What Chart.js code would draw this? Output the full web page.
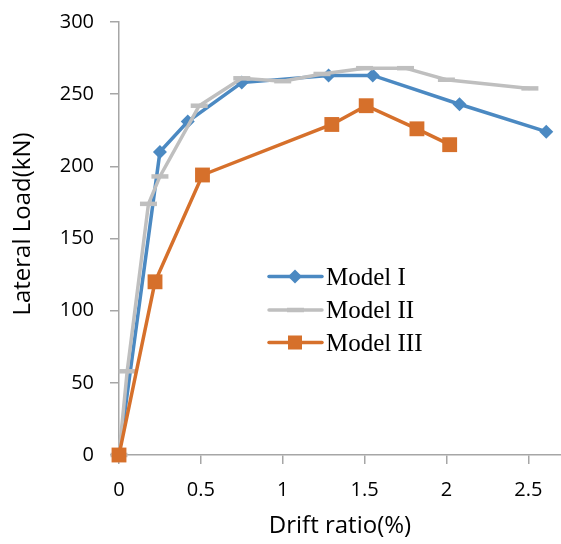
<!DOCTYPE html>
<html lang="en">
<head>
    <meta charset="UTF-8">
    <title>Lateral Load vs Drift Ratio</title>
    <script src="https://cdn.jsdelivr.net/npm/chart.js"></script>
    <style>
        html, body { margin: 0; padding: 0; background: #fff; }
        #wrap { width: 561px; height: 544px; }
    </style>
</head>
<body>
    <div id="wrap"><canvas id="driftChart" width="561" height="544"></canvas></div>

    <script>
        // data
        const seriesNames = ["Model I", "Model II", "Model III"];
        const modelIDrift = [0, 0.25, 0.42, 0.75, 1.28, 1.55, 2.08, 2.61];
        const modelILoad = [0, 210, 231, 258, 263, 263, 243, 224];
        const modelIIDrift = [0, 0.05, 0.18, 0.25, 0.49, 0.75, 1.0, 1.24, 1.5, 1.75, 2.0, 2.51];
        const modelIILoad = [0, 58, 174, 193, 242, 261, 259, 264, 268, 268, 260, 254];
        const modelIIIDrift = [0, 0.22, 0.51, 1.3, 1.51, 1.82, 2.02];
        const modelIIILoad = [0, 120, 194, 229, 242, 226, 215];
        const xTicks = [0, 0.5, 1, 1.5, 2, 2.5];
        const yTicks = [0, 50, 100, 150, 200, 250, 300];

        const BLUE = "#4b89c2";
        const GRAY = "#bfbfbf";
        const ORANGE = "#d6702b";

        function pts(xs, ys) {
            return xs.map((x, i) => ({ x: x, y: ys[i] }));
        }

        // legend drawn inside the plot, like the Excel one
        const insideLegend = {
            id: "insideLegend",
            afterDatasetsDraw(chart) {
                const ctx = chart.ctx;
                const rows = [276.5, 310, 342.5];
                ctx.save();
                chart.data.datasets.forEach((ds, i) => {
                    const y = rows[i];
                    ctx.strokeStyle = ds.borderColor;
                    ctx.lineWidth = 3.5;
                    ctx.lineCap = "round";
                    ctx.beginPath();
                    ctx.moveTo(269, y);
                    ctx.lineTo(322, y);
                    ctx.stroke();
                    ctx.fillStyle = ds.pointBackgroundColor;
                    if (ds.pointStyle === "rectRot") {
                        ctx.beginPath();
                        ctx.moveTo(295, y - 7);
                        ctx.lineTo(302, y);
                        ctx.lineTo(295, y + 7);
                        ctx.lineTo(288, y);
                        ctx.closePath();
                        ctx.fill();
                    } else if (ds.pointStyle === "rect") {
                        ctx.fillRect(288, y - 7, 14, 14);
                    } else {
                        ctx.lineCap = "butt";
                        ctx.lineWidth = 4.5;
                        ctx.beginPath();
                        ctx.moveTo(287, y);
                        ctx.lineTo(304, y);
                        ctx.stroke();
                    }
                    ctx.fillStyle = "#000";
                    ctx.font = "25px 'Liberation Serif', serif";
                    ctx.textBaseline = "alphabetic";
                    ctx.fillText(ds.label, 326, y + 8);
                });
                ctx.restore();
            }
        };

        const ctx = document.getElementById("driftChart").getContext("2d");
        new Chart(ctx, {
            type: "scatter",
            data: {
                datasets: [
                    {
                        label: seriesNames[0],
                        data: pts(modelIDrift, modelILoad),
                        showLine: true,
                        borderColor: BLUE,
                        backgroundColor: BLUE,
                        pointBackgroundColor: BLUE,
                        pointBorderColor: BLUE,
                        borderWidth: 3.5,
                        pointStyle: "rectRot",
                        pointRadius: 7,
                        pointBorderWidth: 0,
                        order: 3,
                        clip: false
                    },
                    {
                        label: seriesNames[1],
                        data: pts(modelIIDrift, modelIILoad),
                        showLine: true,
                        borderColor: GRAY,
                        backgroundColor: GRAY,
                        pointBackgroundColor: GRAY,
                        pointBorderColor: GRAY,
                        borderWidth: 3.5,
                        pointStyle: "line",
                        pointRadius: 8.5,
                        pointBorderWidth: 4.5,
                        order: 2,
                        clip: false
                    },
                    {
                        label: seriesNames[2],
                        data: pts(modelIIIDrift, modelIIILoad),
                        showLine: true,
                        borderColor: ORANGE,
                        backgroundColor: ORANGE,
                        pointBackgroundColor: ORANGE,
                        pointBorderColor: ORANGE,
                        borderWidth: 3.5,
                        pointStyle: "rect",
                        pointRadius: 10.5,
                        pointBorderWidth: 0,
                        order: 1,
                        clip: false
                    }
                ]
            },
            options: {
                responsive: false,
                animation: false,
                events: [],
                layout: { autoPadding: false, padding: { top: 22, right: 0, left: 0, bottom: 0 } },
                plugins: {
                    legend: { display: false },
                    tooltip: { enabled: false }
                },
                scales: {
                    x: {
                        type: "linear",
                        min: 0,
                        max: 2.7,
                        afterBuildTicks: s => { s.ticks = xTicks.map(v => ({ value: v })); },
                        afterFit: s => { s.height = 89; s.paddingLeft = 0; s.paddingRight = 0; },
                        border: { color: "#a6a6a6", width: 1.5 },
                        grid: { drawOnChartArea: false, drawTicks: true, tickLength: 9, color: "#a6a6a6", lineWidth: 1.5 },
                        ticks: {
                            padding: 14,
                            color: "#000",
                            maxRotation: 0,
                            callback: v => String(v),
                            font: { family: "'Open Sans'", size: 20 }
                        },
                        title: {
                            display: true,
                            text: "Drift ratio(%)",
                            color: "#000",
                            padding: { top: 0, bottom: 3 },
                            font: { family: "'Open Sans'", size: 24 }
                        }
                    },
                    y: {
                        type: "linear",
                        min: 0,
                        max: 300,
                        afterBuildTicks: s => { s.ticks = yTicks.map(v => ({ value: v })); },
                        afterFit: s => { s.width = 119; s.paddingTop = 0; s.paddingBottom = 0; },
                        border: { color: "#a6a6a6", width: 1.5 },
                        grid: { drawOnChartArea: false, drawTicks: true, tickLength: 9, color: "#a6a6a6", lineWidth: 1.5 },
                        ticks: {
                            padding: 16,
                            color: "#000",
                            callback: v => String(v),
                            font: { family: "'Open Sans'", size: 20 }
                        },
                        title: {
                            display: true,
                            // leading spaces nudge the title up a little, as in the original
                            text: "    \u2009Lateral Load(kN)",
                            color: "#000",
                            padding: { top: 9, bottom: 0 },
                            font: { family: "'Open Sans'", size: 24 }
                        }
                    }
                }
            },
            plugins: [insideLegend]
        });
    </script>
</body>
</html>
